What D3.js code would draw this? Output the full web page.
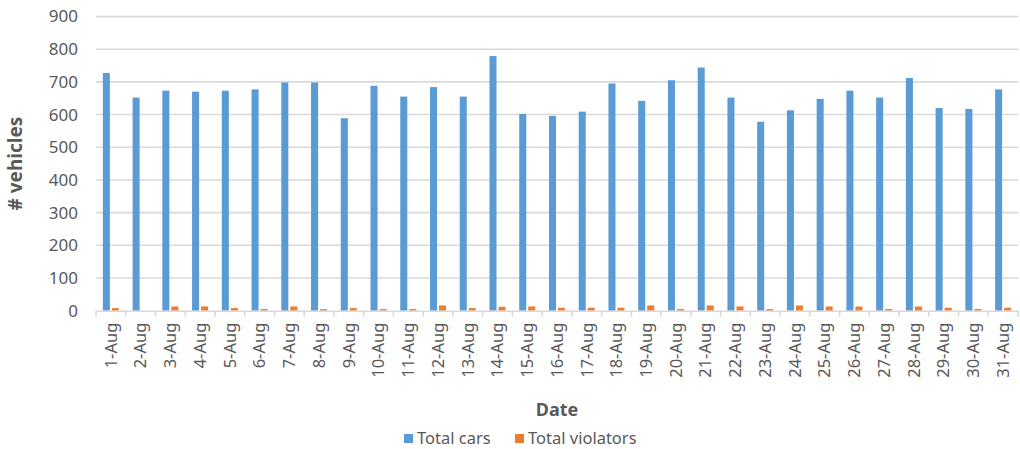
<!DOCTYPE html>
<html>
<head>
<meta charset="utf-8">
<script src="https://cdn.jsdelivr.net/npm/d3@7"></script>
<style>
  body { margin: 0; background: #fff; }
  text { font-family: "Noto Sans", "Open Sans", sans-serif; fill: #595959; }
</style>
</head>
<body>
<div id="main"></div>
<script>
// data
const dates = d3.range(1, 32).map((d) => `${d}-Aug`);
const totalCars = [727, 652, 673, 670, 673, 677, 698, 698, 589, 688, 655, 684, 655, 779,
                   602, 596, 609, 695, 642, 705, 744, 652, 578, 613, 648, 673, 652, 712,
                   620, 617, 677];
const totalViolators = [8, 0, 13, 13, 8, 5, 13, 5, 8, 5, 5, 16, 8, 12,
                        13, 9, 9, 9, 16, 5, 16, 13, 5, 16, 13, 13, 5, 13,
                        9, 5, 9];
const seriesNames = ["Total cars", "Total violators"];
const seriesColors = ["#5B9BD5", "#ED7D31"];
const yTicks = [0, 100, 200, 300, 400, 500, 600, 700, 800, 900];

const ctx = {
    w: 1020,
    h: 449,
    left: 96,
    right: 1018,
    top: 16.5,
    bottom: 310.7,
    GRID: "#d9d9d9"
};

function createViz(){
    let svg = d3.select("#main").append("svg")
        .attr("width", ctx.w)
        .attr("height", ctx.h);

    let rows = dates.map((d, i) => ({date: d, values: [totalCars[i], totalViolators[i]]}));

    let xScale = d3.scaleBand().domain(dates)
        .range([ctx.left, ctx.right]).paddingInner(0).paddingOuter(0);
    let subScale = d3.scaleBand().domain([0, 1])
        .range([0, xScale.bandwidth()]).paddingInner(0.22).paddingOuter(0.76);
    let yScale = d3.scaleLinear().domain([0, 900])
        .range([ctx.bottom, ctx.top]);

    // gridlines
    svg.append("g").selectAll("line")
        .data(yTicks.filter((t) => t > 0))
        .enter().append("line")
        .attr("x1", ctx.left).attr("x2", ctx.right)
        .attr("y1", (d) => yScale(d)).attr("y2", (d) => yScale(d))
        .attr("stroke", ctx.GRID).attr("stroke-width", 1.6);

    // y axis labels
    let yAxis = svg.append("g")
        .attr("transform", `translate(${ctx.left - 18},0)`)
        .call(d3.axisLeft(yScale).tickValues(yTicks).tickSize(0).tickPadding(0));
    yAxis.select(".domain").remove();
    yAxis.selectAll("text")
        .style("font-size", "17px")
        .style("font-family", "'Noto Sans', sans-serif")
        .attr("fill", "#595959");

    // bars
    let groups = svg.append("g").selectAll("g")
        .data(rows)
        .enter().append("g")
        .attr("transform", (d) => `translate(${xScale(d.date)},0)`);
    groups.selectAll("rect")
        .data((d) => d.values.map((v, i) => ({i: i, v: v})))
        .enter().append("rect")
        .attr("x", (d) => subScale(d.i))
        .attr("width", subScale.bandwidth())
        .attr("y", (d) => yScale(d.v))
        .attr("height", (d) => yScale(0) - yScale(d.v))
        .attr("fill", (d) => seriesColors[d.i]);

    // x axis
    let xAxis = svg.append("g")
        .attr("transform", `translate(0,${ctx.bottom})`)
        .call(d3.axisBottom(xScale).tickSize(0).tickPadding(0));
    xAxis.select(".domain")
        .attr("stroke", ctx.GRID).attr("stroke-width", 1.6);
    xAxis.selectAll(".tick text")
        .attr("transform", "rotate(-90)")
        .attr("x", -12).attr("y", 0).attr("dy", "0.35em")
        .style("text-anchor", "end")
        .style("font-size", "16.5px")
        .style("font-family", "'Noto Sans', sans-serif")
        .attr("fill", "#595959");
    // tick marks between categories
    svg.append("g").selectAll("line")
        .data(d3.range(dates.length + 1))
        .enter().append("line")
        .attr("x1", (d) => ctx.left + d * xScale.step())
        .attr("x2", (d) => ctx.left + d * xScale.step())
        .attr("y1", ctx.bottom).attr("y2", ctx.bottom + 6)
        .attr("stroke", ctx.GRID).attr("stroke-width", 1.6);

    // axis titles
    svg.append("text")
        .attr("x", (ctx.left + ctx.right) / 2).attr("y", 416)
        .style("text-anchor", "middle")
        .style("font-size", "18px").style("font-weight", "bold")
        .text("Date");
    svg.append("text")
        .attr("transform", `translate(22,${(ctx.top + ctx.bottom) / 2}) rotate(-90)`)
        .style("text-anchor", "middle")
        .style("font-size", "19px").style("font-weight", "bold")
        .text("# vehicles");

    // legend
    let legendX = [404, 515];
    let legend = svg.append("g").selectAll("g")
        .data(seriesNames)
        .enter().append("g")
        .attr("transform", (d, i) => `translate(${legendX[i]},434)`);
    legend.append("rect")
        .attr("width", 9).attr("height", 9)
        .attr("fill", (d, i) => seriesColors[i]);
    legend.append("text")
        .attr("x", 13).attr("y", 4.5).attr("dy", "0.35em")
        .style("font-size", "16.5px")
        .text((d) => d);
}

createViz();
</script>
</body>
</html>
